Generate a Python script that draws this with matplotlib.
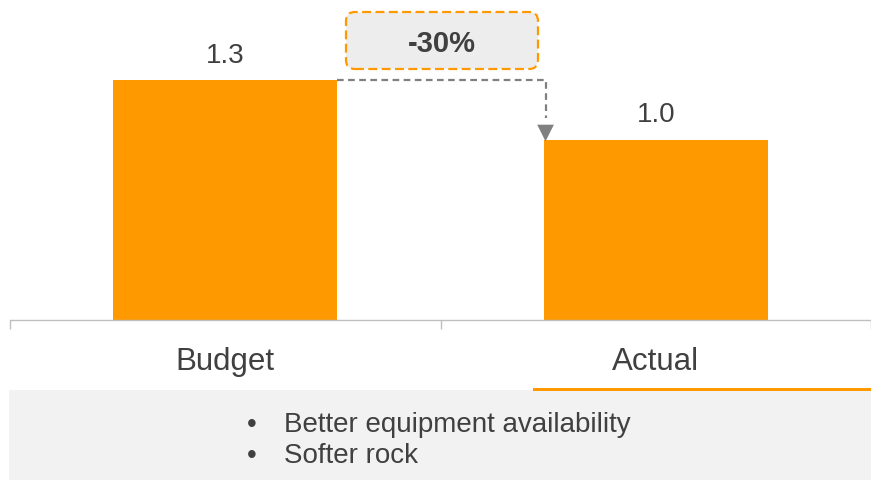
import matplotlib
matplotlib.use("Agg")
import matplotlib.pyplot as plt
from matplotlib.patches import Rectangle, FancyBboxPatch

plt.rcParams['font.family'] = ['Liberation Sans', 'DejaVu Sans']

# Data
categories = ['Budget', 'Actual']
values = [1.33, 1.0]
value_labels = ['1.3', '1.0']
change_label = '-30%'
notes = ['Better equipment availability', 'Softer rock']

ORANGE = '#FF9900'
TEXT = '#404040'
GRID = '#BFBFBF'

W, H = 871, 481
fig = plt.figure(figsize=(W / 100, H / 100), dpi=100)

# main bar axes, pixel layout -> figure fractions
ax = fig.add_axes([10 / W, (H - 321) / H, 861 / W, 321 / H])
x = list(range(len(categories)))
bar_w = 0.52
bars = ax.bar(x, values, width=bar_w, color=ORANGE, zorder=2)
ax.set_xlim(-0.5, 1.5)
ax.set_ylim(0, 1.779)

for s in ['top', 'right', 'left']:
    ax.spines[s].set_visible(False)
ax.spines['bottom'].set_color(GRID)
ax.spines['bottom'].set_linewidth(1)
ax.set_yticks([])
ax.set_xticks(x)
ax.set_xticklabels(categories, fontsize=22.5, color=TEXT)
ax.tick_params(axis='x', which='major', length=0, pad=18.5)
ax.set_xticks([-0.5, 0.5, 1.5], minor=True)
ax.tick_params(axis='x', which='minor', length=6.5, color=GRID, width=1)
ax.spines['bottom'].set_clip_on(False)

# value labels
for xi, v, lab in zip(x, values, value_labels):
    ax.annotate(lab, (xi, v), xytext=(0, 9), textcoords='offset points',
                ha='center', va='bottom', fontsize=20, color=TEXT)

# dashed connector from budget bar top down to actual bar
x_start = x[0] + bar_w / 2
x_end = x[1] - bar_w / 2 + 0.004
ax.plot([x_start, x_end, x_end], [values[0], values[0], values[1] + 0.12],
        color='#808080', lw=1.6, linestyle=(0, (3, 2)), clip_on=False, zorder=3)
ax.annotate('', xy=(x_end, values[1] - 0.01), xytext=(x_end, values[1] + 0.13),
            arrowprops=dict(arrowstyle='-|>,head_length=0.6,head_width=0.3',
                            mutation_scale=20, color='#808080', lw=0,
                            shrinkA=0, shrinkB=0), zorder=3)

# change box
box = FancyBboxPatch((346 / 100, (H - 70) / 100), 1.92, 0.57,
                     boxstyle='round,pad=0,rounding_size=0.09',
                     transform=fig.dpi_scale_trans, facecolor='#EDEDED',
                     edgecolor=ORANGE, lw=1.6, linestyle=(0, (4, 2)))
fig.patches.append(box)
fig.text(442 / W, 1 - 44 / H, change_label, ha='center', va='center',
         fontsize=21, fontweight='bold', color=TEXT)

# notes panel
fig.patches.append(Rectangle((9 / W, 0), 862 / W, 90 / H, transform=fig.transFigure,
                             facecolor='#F2F2F2', edgecolor='none'))
fig.patches.append(Rectangle((533 / W, (H - 392) / H), 338 / W, 3 / H,
                             transform=fig.transFigure, facecolor=ORANGE,
                             edgecolor='none'))
for i, note in enumerate(notes):
    yb = 1 - (432 + i * 31) / H
    fig.text(247 / W, yb, '\u2022', ha='left', va='baseline', fontsize=20, color=TEXT)
    fig.text(284 / W, yb, note, ha='left', va='baseline', fontsize=20, color=TEXT)

fig.savefig('out.png', dpi=100)
